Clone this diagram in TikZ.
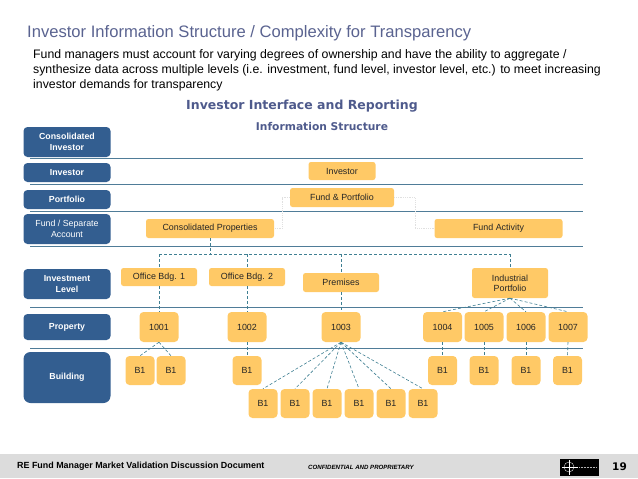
\documentclass[tikz,border=0pt]{standalone}
\usepackage{fontspec}
\setmainfont{Liberation Sans}
\newfontfamily\headfont{DejaVu Sans}
\definecolor{titleblue}{HTML}{5A6390}
\definecolor{headblue}{HTML}{4E5A8C}
\definecolor{navy}{HTML}{335E90}
\definecolor{amber}{HTML}{FFC966}
\definecolor{rulecol}{HTML}{4F7C98}
\definecolor{dashcol}{HTML}{3F7F92}
\definecolor{bandgrey}{HTML}{DCDCDC}
\tikzset{
  lvl/.style={fill=navy, text=white, rounded corners=4pt, inner sep=0pt, minimum width=87pt, align=center, font=\fontsize{8.8}{11.5}\selectfont\bfseries},
  box/.style={fill=amber, text=black!85, rounded corners=2.5pt, inner sep=0pt, align=center, font=\fontsize{8.9}{10}\selectfont},
  prop/.style={box, minimum width=39pt, minimum height=30pt, rounded corners=4pt},
  bld/.style={box, minimum width=29pt, minimum height=29pt, rounded corners=4pt},
  office/.style={box, minimum width=76pt, minimum height=18pt},
  hrule/.style={rulecol, line width=0.8pt},
  dlink/.style={dashcol, densely dashed, line width=0.6pt},
  dotlink/.style={black!12, densely dotted, line width=0.8pt}
}
\begin{document}
\begin{tikzpicture}[x=1pt,y=-1pt]
\useasboundingbox (0,0) rectangle (638,479);
% footer band
\fill[bandgrey] (0,454) rectangle (638,478);
\fill[black] (560,459) rectangle (599,476);
\draw[white, line width=0.3pt] (569,460) -- (569,475);
\draw[white, line width=0.3pt] (562,467) -- (578,467);
\draw[white, line width=0.3pt] (569,467) circle (5);
\draw[white!70!black, line width=0.5pt, densely dotted] (579,467) -- (596,467);
\node[anchor=west, inner sep=0pt, font=\fontsize{8.9}{11}\selectfont\bfseries] (foot) at (17,466) {RE Fund Manager Market Validation Discussion Document};
\node[anchor=west, inner sep=0pt, font=\fontsize{6.1}{8}\selectfont\bfseries\itshape] (conf) at (308,467.5) {CONFIDENTIAL AND PROPRIETARY};
\node[anchor=west, inner sep=0pt, font=\headfont\fontsize{10.5}{14}\selectfont\bfseries] (pageno) at (612,467) {19};
% titles
\node[anchor=west, inner sep=0pt, text=titleblue, font=\fontsize{16.6}{18}\selectfont] (title) at (27,33) {Investor Information Structure / Complexity for Transparency};
\node[anchor=north west, inner sep=0pt, align=left, font=\fontsize{12.3}{15}\selectfont] (intro) at (33,49) {Fund managers must account for varying degrees of ownership and have the ability to aggregate /\\synthesize data across multiple levels (i.e. investment, fund level, investor level, etc.) to meet increasing\\investor demands for transparency};
\node[inner sep=0pt, text=headblue, font=\headfont\fontsize{12.5}{14}\selectfont\bfseries] (head) at (302,106) {Investor Interface and Reporting};
\node[inner sep=0pt, text=headblue, font=\headfont\fontsize{10.7}{12}\selectfont\bfseries] (sub) at (322,127) {Information Structure};
% rules between levels
\coordinate (RA) at (30,158);
\coordinate (RB) at (30,184);
\coordinate (RC) at (30,211);
\coordinate (RD) at (30,246);
\coordinate (RE) at (30,307);
\coordinate (RF) at (30,348);
\draw[hrule] (RA) -- (583,158);
\draw[hrule] (RB) -- (583,184);
\draw[hrule] (RC) -- (583,211);
\draw[hrule] (RD) -- (583,246);
\draw[hrule] (RE) -- (583,307);
\draw[hrule] (RF) -- (583,348);
% level labels
\node[lvl, minimum height=30pt] (lconsol) at (67,142) {Consolidated\\Investor};
\node[lvl, minimum height=19pt] (linv) at (67,172.5) {Investor};
\node[lvl, minimum height=19pt] (lport) at (67,199.5) {Portfolio};
\node[lvl, minimum height=30pt, font=\fontsize{8.8}{11.5}\selectfont] (lfund) at (67,229) {Fund / Separate\\Account};
\node[lvl, minimum height=30pt] (linvest) at (67,284) {Investment\\Level};
\node[lvl, minimum height=26pt] (lprop) at (67,327) {Property};
\node[lvl, minimum height=51pt, rounded corners=7pt] (lbld) at (67,377.5) {Building};
% upper boxes
\node[box, minimum width=67pt, minimum height=18pt] (inv) at (342,171) {Investor};
\node[box, minimum width=104pt, minimum height=19pt] (fund) at (342,197.5) {Fund \& Portfolio};
\node[box, minimum width=128pt, minimum height=19pt] (cons) at (210,228.5) {Consolidated Properties};
\node[box, minimum width=128pt, minimum height=19pt] (act) at (498.5,228.5) {Fund Activity};
% investment level
\node[office] (ofa) at (159,277) {Office Bdg. 1};
\node[office] (ofb) at (247,277) {Office Bdg. 2};
\node[office, minimum height=19pt] (prem) at (341,282.5) {Premises};
\node[office, minimum height=30pt] (ind) at (510,283) {Industrial\\Portfolio};
% properties
\node[prop] (pa) at (159,327) {1001};
\node[prop] (pb) at (247,327) {1002};
\node[prop] (pc) at (341,327) {1003};
\node[prop] (pd) at (442.5,327) {1004};
\node[prop] (pe) at (484,327) {1005};
\node[prop] (pf) at (526,327) {1006};
\node[prop] (pg) at (568,327) {1007};
% buildings
\node[bld] (ba) at (140,370.5) {B1};
\node[bld] (bb) at (171,370.5) {B1};
\node[bld] (bc) at (247,370.5) {B1};
\node[bld] (bd) at (442.5,370.5) {B1};
\node[bld] (be) at (484,370.5) {B1};
\node[bld] (bf) at (526,370.5) {B1};
\node[bld] (bg) at (567.5,370.5) {B1};
\node[bld] (ca) at (263,403.5) {B1};
\node[bld] (cb) at (295,403.5) {B1};
\node[bld] (cc) at (327,403.5) {B1};
\node[bld] (cd) at (359,403.5) {B1};
\node[bld] (ce) at (391,403.5) {B1};
\node[bld] (cf) at (423,403.5) {B1};
% dotted links
\coordinate (DL) at (282,197.5); % left elbow
\coordinate (DR) at (415,197.5); % right elbow
\draw[dotlink] (fund.west) -- (DL) |- (cons.east);
\draw[dotlink] (fund.east) -- (DR) |- (act.west);
% dashed bus
\coordinate (BL) at (ofa.north |- 0,254);
\coordinate (BR) at (ind.north |- 0,254);
\coordinate (BC) at (cons.south |- 0,254);
\draw[dlink] (BL) -- (BR);
\draw[dlink] (cons.south) -- (BC);
\draw[dlink] (BL) -- (ofa.north);
\draw[dlink] (ofb.north |- BL) -- (ofb.north);
\draw[dlink] (prem.north |- BL) -- (prem.north);
\draw[dlink] (BR) -- (ind.north);
\draw[dlink] (ofa.south) -- (pa.north);
\draw[dlink] (ofb.south) -- (pb.north);
\draw[dlink] (prem.south) -- (pc.north);
\draw[dlink] (ind.south) -- (pd.north);
\draw[dlink] (ind.south) -- (pe.north);
\draw[dlink] (ind.south) -- (pf.north);
\draw[dlink] (ind.south) -- (pg.north);
\draw[dlink] (pa.south) -- (ba.north);
\draw[dlink] (pa.south) -- (bb.north);
\draw[dlink] (pb.south) -- (bc.north);
\draw[dlink] (pd.south) -- (bd.north);
\draw[dlink] (pe.south) -- (be.north);
\draw[dlink] (pf.south) -- (bf.north);
\draw[dlink] (pg.south) -- (bg.north);
\draw[dlink] (pc.south) -- (ca.north);
\draw[dlink] (pc.south) -- (cb.north);
\draw[dlink] (pc.south) -- (cc.north);
\draw[dlink] (pc.south) -- (cd.north);
\draw[dlink] (pc.south) -- (ce.north);
\draw[dlink] (pc.south) -- (cf.north);
\end{tikzpicture}
\end{document}
